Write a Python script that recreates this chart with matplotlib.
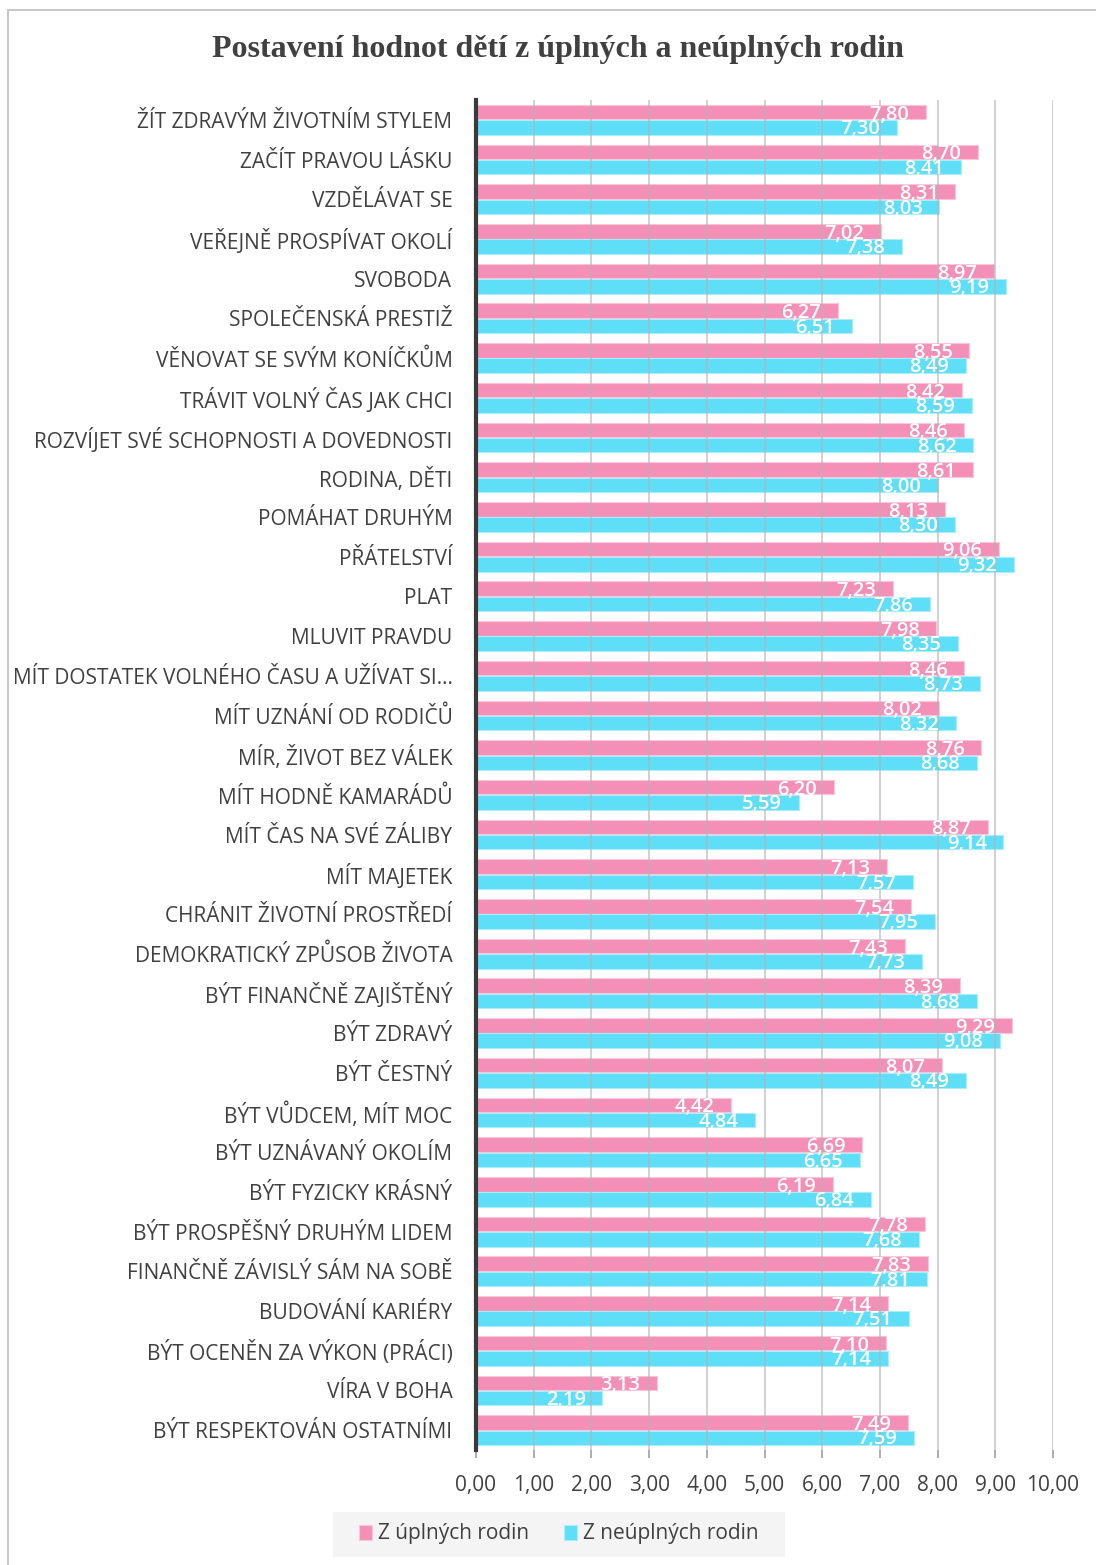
import matplotlib
matplotlib.use("Agg")
import matplotlib.pyplot as plt
import numpy as np
from matplotlib.patches import Rectangle

title = "Postavení hodnot dětí z úplných a neúplných rodin"
categories = [
    "ŽÍT ZDRAVÝM ŽIVOTNÍM STYLEM",
    "ZAČÍT PRAVOU LÁSKU",
    "VZDĚLÁVAT SE",
    "VEŘEJNĚ PROSPÍVAT OKOLÍ",
    "SVOBODA",
    "SPOLEČENSKÁ PRESTIŽ",
    "VĚNOVAT SE SVÝM KONÍČKŮM",
    "TRÁVIT VOLNÝ ČAS JAK CHCI",
    "ROZVÍJET SVÉ SCHOPNOSTI A DOVEDNOSTI",
    "RODINA, DĚTI",
    "POMÁHAT DRUHÝM",
    "PŘÁTELSTVÍ",
    "PLAT",
    "MLUVIT PRAVDU",
    "MÍT DOSTATEK VOLNÉHO ČASU A UŽÍVAT SI…",
    "MÍT UZNÁNÍ OD RODIČŮ",
    "MÍR, ŽIVOT BEZ VÁLEK",
    "MÍT HODNĚ KAMARÁDŮ",
    "MÍT ČAS NA SVÉ ZÁLIBY",
    "MÍT MAJETEK",
    "CHRÁNIT ŽIVOTNÍ PROSTŘEDÍ",
    "DEMOKRATICKÝ ZPŮSOB ŽIVOTA",
    "BÝT FINANČNĚ ZAJIŠTĚNÝ",
    "BÝT ZDRAVÝ",
    "BÝT ČESTNÝ",
    "BÝT VŮDCEM, MÍT MOC",
    "BÝT UZNÁVANÝ OKOLÍM",
    "BÝT FYZICKY KRÁSNÝ",
    "BÝT PROSPĚŠNÝ DRUHÝM LIDEM",
    "FINANČNĚ ZÁVISLÝ SÁM NA SOBĚ",
    "BUDOVÁNÍ KARIÉRY",
    "BÝT OCENĚN ZA VÝKON (PRÁCI)",
    "VÍRA V BOHA",
    "BÝT RESPEKTOVÁN OSTATNÍMI",
]
uplne = [7.80, 8.70, 8.31, 7.02, 8.97, 6.27, 8.55, 8.42, 8.46, 8.61, 8.13, 9.06,
         7.23, 7.98, 8.46, 8.02, 8.76, 6.20, 8.87, 7.13, 7.54, 7.43, 8.39, 9.29,
         8.07, 4.42, 6.69, 6.19, 7.78, 7.83, 7.14, 7.10, 3.13, 7.49]
neuplne = [7.30, 8.41, 8.03, 7.38, 9.19, 6.51, 8.49, 8.59, 8.62, 8.00, 8.30, 9.32,
           7.86, 8.35, 8.73, 8.32, 8.68, 5.59, 9.14, 7.57, 7.95, 7.73, 8.68, 9.08,
           8.49, 4.84, 6.65, 6.84, 7.68, 7.81, 7.51, 7.14, 2.19, 7.59]
series_names = ["Z úplných rodin", "Z neúplných rodin"]
xticks = [0, 1, 2, 3, 4, 5, 6, 7, 8, 9, 10]

PINK = "#F48FB8"
CYAN = "#5EDFF7"
FONT = ["Open Sans", "DejaVu Sans"]

fig = plt.figure(figsize=(10.96, 15.65), dpi=100)
W, H = 1096, 1565
ax = fig.add_axes([476 / W, 1 - 1450 / H, (1053 - 476) / W, (1450 - 100) / H])

n = len(categories)
y = np.arange(n)
bh = 0.365
ax.barh(y - bh / 2 - 0.01, uplne, height=bh, color=PINK, edgecolor="#f9c6da", linewidth=0.8,
        label=series_names[0], zorder=2)
ax.barh(y + bh / 2 + 0.01, neuplne, height=bh, color=CYAN, edgecolor="#a8eefb", linewidth=0.8,
        label=series_names[1], zorder=2)

def fmt(v):
    return f"{v:.2f}".replace(".", ",")

for i in range(n):
    ax.annotate(fmt(uplne[i]), (uplne[i], y[i] - bh / 2), xytext=(-12, -1.5),
                textcoords="offset points", ha="right", va="center",
                color="white", fontsize=14.5, fontweight="semibold", family=FONT, zorder=4)
    ax.annotate(fmt(neuplne[i]), (neuplne[i], y[i] + bh / 2), xytext=(-12, -1.5),
                textcoords="offset points", ha="right", va="center",
                color="white", fontsize=14.5, fontweight="semibold", family=FONT, zorder=4)

ax.set_xlim(0, 10)
ax.set_ylim(n - 0.5, -0.5)
ax.set_xticks(xticks)
ax.set_xticklabels([f"{t:.2f}".replace(".", ",") for t in xticks], family=FONT,
                   fontsize=15, color="#404040")
ax.set_yticks(y)
ax.set_yticklabels(categories, family=FONT, fontsize=15, color="#404040")
ax.tick_params(axis="y", length=0, pad=17)
ax.tick_params(axis="x", length=6, width=1.2, color="#a0a0a0", pad=12, direction="out")
ax.xaxis.grid(True, color="#b4b4b4", linewidth=1.2, zorder=3, alpha=0.7)
ax.set_axisbelow(False)
for s in ["top", "right", "bottom"]:
    ax.spines[s].set_visible(False)
ax.spines["left"].set_color("#3a3a3a")
ax.spines["left"].set_linewidth(3)
ax.spines["left"].set_zorder(5)

fig.text(558 / W, 1 - 50 / H, title, ha="center", va="center",
         family=["Liberation Serif", "DejaVu Serif"], fontweight="bold",
         fontsize=23, color="#404040")

# legend background
fig.patches.append(Rectangle((333 / W, 1 - 1557 / H), (785 - 333) / W, 45 / H,
                             transform=fig.transFigure, facecolor="#f4f4f4",
                             edgecolor="none", zorder=0))
leg = fig.legend(loc="center", bbox_to_anchor=(559 / W, 1 - 1534 / H), ncol=2,
                 frameon=False, prop={"family": FONT, "size": 15},
                 handlelength=0.6, handleheight=0.7, handletextpad=0.3,
                 columnspacing=1.7, borderpad=0.7)
for t in leg.get_texts():
    t.set_color("#404040")

# outer border
fig.patches.append(Rectangle((8 / W, -0.01), 1.1, 1 - 10 / H + 0.01,
                             transform=fig.transFigure, fill=False,
                             edgecolor="#c8c8c8", linewidth=1.5))

fig.savefig("out.png", dpi=100, facecolor="white")
